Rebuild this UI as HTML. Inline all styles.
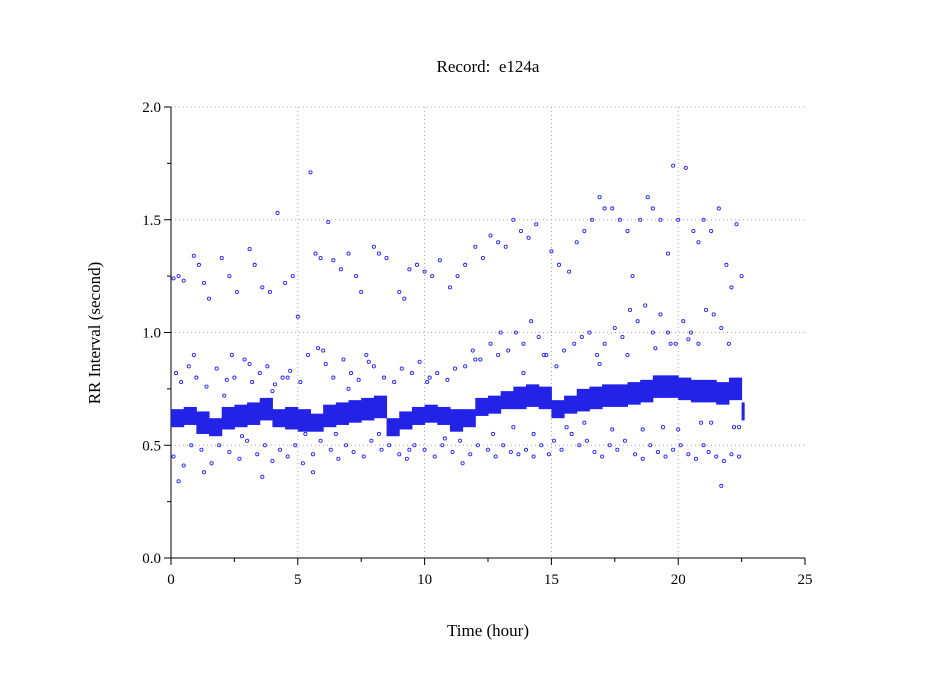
<!DOCTYPE html>
<html><head><meta charset="utf-8"><style>
html,body{margin:0;padding:0;background:#fff;}
svg{display:block;font-family:"Liberation Serif",serif;}
</style></head><body>
<svg id="chart" width="949" height="697" viewBox="0 0 949 697" xmlns="http://www.w3.org/2000/svg">
<text x="488" y="72" font-size="17" text-anchor="middle" style="white-space:pre">Record:  e124a</text>
<text x="488" y="636" font-size="17" text-anchor="middle">Time (hour)</text>
<text x="100" y="333" font-size="17" text-anchor="middle" transform="rotate(-90 100 333)">RR Interval (second)</text>
<g id="grid"></g>
<g id="axes"></g>
<g id="band"></g>
<g id="pts"></g>
</svg>
<script>
const xTicks=[0,5,10,15,20,25];
const yTicks=[0.0,0.5,1.0,1.5,2.0];
const yTickLabels=["0.0","0.5","1.0","1.5","2.0"];
const bandT=[0,0.5,1,1.5,2,2.5,3,3.5,4,4.5,5,5.5,6,6.5,7,7.5,8,8.5,9,9.5,10,10.5,11,11.5,12,12.5,13,13.5,14,14.5,15,15.5,16,16.5,17,17.5,18,18.5,19,19.5,20,20.5,21,21.5,22,22.5];
const bandC=[0.62,0.63,0.60,0.58,0.62,0.63,0.64,0.66,0.62,0.62,0.61,0.60,0.63,0.64,0.65,0.66,0.67,0.58,0.61,0.63,0.64,0.63,0.61,0.62,0.67,0.68,0.70,0.71,0.72,0.71,0.66,0.68,0.70,0.71,0.72,0.72,0.73,0.74,0.76,0.76,0.75,0.74,0.74,0.73,0.75,0.65];
const bandHalf=[0.04,0.04,0.05,0.04,0.05,0.05,0.05,0.05,0.04,0.05,0.05,0.04,0.05,0.05,0.05,0.05,0.05,0.04,0.04,0.04,0.04,0.04,0.05,0.04,0.04,0.04,0.04,0.05,0.05,0.05,0.04,0.04,0.05,0.05,0.05,0.05,0.05,0.05,0.05,0.05,0.05,0.05,0.05,0.05,0.05,0.04];
const ptT=[0.1,0.3,0.5,0.9,1.1,1.3,1.5,2.0,2.3,2.6,3.1,3.3,3.6,3.9,4.2,4.5,4.8,5.0,5.5,5.7,5.9,6.2,6.4,6.7,7.0,7.3,7.5,8.0,8.2,8.5,9.0,9.2,9.4,9.7,10.0,10.3,10.6,11.0,11.3,11.6,12.0,12.3,12.6,12.9,13.2,13.5,13.8,14.1,14.4,15.0,15.3,15.7,16.0,16.3,16.6,16.9,17.1,17.4,17.7,18.0,18.2,18.5,18.8,19.0,19.3,19.6,19.8,20.0,20.3,20.6,20.8,21.0,21.3,21.6,21.9,22.1,22.3,22.5,
0.2,0.4,0.7,1.0,1.4,1.8,2.2,2.5,2.9,3.2,3.5,3.8,4.1,4.4,4.7,5.1,5.4,5.8,6.1,6.4,6.8,7.1,7.4,7.7,8.0,8.4,8.8,9.1,9.5,9.8,10.2,10.5,10.9,11.2,11.6,11.9,12.2,12.6,12.9,13.3,13.6,13.9,14.2,14.5,14.8,15.2,15.5,15.9,16.2,16.5,16.8,17.1,17.5,17.8,18.1,18.4,18.7,19.0,19.3,19.6,19.9,20.2,20.5,20.8,21.1,21.4,21.7,
0.1,0.5,0.8,1.2,1.6,1.9,2.3,2.7,3.0,3.4,3.7,4.0,4.3,4.6,4.9,5.2,5.6,5.9,6.3,6.6,6.9,7.2,7.6,7.9,8.3,8.6,9.0,9.3,9.6,10.0,10.4,10.7,11.1,11.4,11.8,12.1,12.5,12.8,13.1,13.4,13.7,14.0,14.3,14.6,14.9,15.1,15.4,15.8,16.1,16.4,16.7,17.0,17.3,17.6,17.9,18.3,18.6,18.9,19.2,19.5,19.8,20.1,20.4,20.7,21.0,21.2,21.5,21.8,22.1,22.4,
0.3,0.9,1.3,1.7,2.1,2.4,2.8,3.1,3.6,4.0,4.6,5.3,5.6,6.0,6.5,7.0,7.8,8.2,9.4,10.1,10.8,11.5,12.0,12.7,13.0,13.5,13.9,14.3,14.7,15.6,16.3,16.9,17.4,18.0,18.6,19.1,19.4,19.7,20.0,20.4,20.9,21.3,21.7,22.0,22.2,22.4];
const ptV=[1.24,1.25,1.23,1.34,1.3,1.22,1.15,1.33,1.25,1.18,1.37,1.3,1.2,1.18,1.53,1.22,1.25,1.07,1.71,1.35,1.33,1.49,1.32,1.28,1.35,1.25,1.18,1.38,1.35,1.33,1.18,1.15,1.28,1.3,1.27,1.25,1.32,1.2,1.25,1.3,1.38,1.33,1.43,1.4,1.38,1.5,1.45,1.42,1.48,1.36,1.3,1.27,1.4,1.45,1.5,1.6,1.55,1.55,1.5,1.45,1.25,1.5,1.6,1.55,1.5,1.35,1.74,1.5,1.73,1.45,1.4,1.5,1.45,1.55,1.3,1.2,1.48,1.25,
0.82,0.78,0.85,0.8,0.76,0.84,0.79,0.8,0.88,0.78,0.82,0.85,0.77,0.8,0.83,0.78,0.9,0.93,0.86,0.8,0.88,0.82,0.79,0.9,0.85,0.8,0.78,0.84,0.82,0.87,0.8,0.82,0.79,0.84,0.85,0.92,0.88,0.95,0.9,0.92,1.0,0.95,1.05,0.98,0.9,0.85,0.92,0.95,0.98,1.0,0.9,0.95,1.02,0.98,1.1,1.05,1.12,1.0,1.08,1.0,0.95,1.05,1.0,0.95,1.1,1.08,1.02,
0.45,0.41,0.5,0.48,0.42,0.5,0.47,0.44,0.52,0.46,0.5,0.43,0.48,0.45,0.5,0.42,0.46,0.52,0.48,0.44,0.5,0.47,0.45,0.52,0.48,0.5,0.46,0.44,0.5,0.48,0.45,0.5,0.47,0.52,0.46,0.5,0.48,0.45,0.5,0.47,0.46,0.48,0.45,0.5,0.46,0.52,0.48,0.55,0.5,0.52,0.47,0.45,0.5,0.48,0.52,0.46,0.44,0.5,0.47,0.45,0.48,0.5,0.46,0.44,0.5,0.47,0.45,0.43,0.46,0.45,
0.34,0.9,0.38,0.55,0.72,0.9,0.54,0.86,0.36,0.74,0.8,0.55,0.38,0.92,0.55,0.75,0.87,0.55,0.48,0.78,0.53,0.42,0.88,0.55,1.0,0.58,0.82,0.55,0.9,0.58,0.6,0.86,0.57,0.9,0.57,0.93,0.58,0.95,0.57,0.97,0.6,0.6,0.32,0.95,0.58,0.58];
const NS="http://www.w3.org/2000/svg";
const X0=171,X1=805,Y0=558,Y1=107;
const xs=t=>X0+(t-0)/(25-0)*(X1-X0);
const ys=v=>Y0-(v-0)/(2-0)*(Y0-Y1);
function mk(tag,attrs,parent){const e=document.createElementNS(NS,tag);for(const k in attrs)e.setAttribute(k,attrs[k]);parent.appendChild(e);return e;}
const grid=document.getElementById('grid'),axes=document.getElementById('axes'),band=document.getElementById('band'),pts=document.getElementById('pts');
xTicks.forEach((t,i)=>{
  if(t>0&&t<25){const g=mk('line',{x1:xs(t),x2:xs(t),y1:Y1,y2:Y0,stroke:'#aaa','stroke-dasharray':'1,3'},grid);
  
  }
  const tk=mk('line',{x1:xs(t),x2:xs(t),y1:Y0,y2:Y0+7,stroke:'#000'},axes);
  
  
  const lb=mk('text',{x:xs(t),y:Y0+26,'font-size':15,'text-anchor':'middle'},axes);lb.textContent=String(t);
  
  
  if(t<25){const m=mk('line',{x1:xs(t+2.5),x2:xs(t+2.5),y1:Y0,y2:Y0+4,stroke:'#000'},axes);
  
  }
});
yTicks.forEach((v,i)=>{
  if(v>0){const g=mk('line',{x1:X0,x2:X1,y1:ys(v),y2:ys(v),stroke:'#aaa','stroke-dasharray':'1,3'},grid);
  
  }
  const tk=mk('line',{x1:X0-7,x2:X0,y1:ys(v),y2:ys(v),stroke:'#000'},axes);
  
  
  const lb=mk('text',{x:X0-10,y:ys(v)+5,'font-size':15,'text-anchor':'end'},axes);lb.textContent=yTickLabels[i];
  
  
  if(v<2){const m=mk('line',{x1:X0-4,x2:X0,y1:ys(v+0.25),y2:ys(v+0.25),stroke:'#000'},axes);
  
  }
});
const ax=mk('path',{d:`M${X0},${Y1}V${Y0}H${X1}`,fill:'none',stroke:'#000'},axes);


bandT.forEach((t,i)=>{
  const w=(i<bandT.length-1)?xs(bandT[i+1])-xs(t):xs(22.6)-xs(t);
  const r=mk('rect',{x:xs(t),y:ys(bandC[i]+bandHalf[i]),width:w+0.5,height:ys(bandC[i]-bandHalf[i])-ys(bandC[i]+bandHalf[i]),fill:'#2323e8'},band);
  
  
});
const nPts=Math.min(ptT.length,ptV.length);
for(let i=0;i<nPts;i++){
  const c=mk('circle',{cx:xs(ptT[i]),cy:ys(ptV[i]),r:1.6,fill:'none',stroke:'#2222ff','stroke-width':0.9},pts);
  
  
}
</script>
</body></html>
